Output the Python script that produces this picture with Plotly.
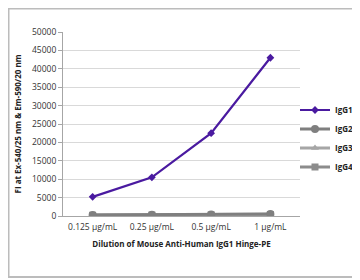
import plotly.graph_objects as go

categories = ["0.125 µg/mL", "0.25 µg/mL", "0.5 µg/mL", "1 µg/mL"]
igg1 = [5200, 10500, 22500, 43000]
igg2 = [300, 320, 400, 550]
igg3 = [250, 280, 350, 450]
igg4 = [200, 250, 300, 400]
series_names = ["IgG1", "IgG2", "IgG3", "IgG4"]
y_ticks = list(range(0, 50001, 5000))

# page body has an 8px margin, so the figure is 8px smaller and offset
W, H = 352, 272
L, R, T, B = 55, 60, 24, 64
PW, PH = W - L - R, H - T - B

fig = go.Figure()
styles = [
    dict(color="#4a1aa0", symbol="diamond", size=6, width=2.2),
    dict(color="#7f7f7f", symbol="circle", size=8, width=3),
    dict(color="#a6a6a6", symbol="triangle-up", size=7, width=3),
    dict(color="#8c8c8c", symbol="square", size=7, width=3),
]
data = [igg1, igg2, igg3, igg4]
order = [3, 2, 1, 0]
for i in order:
    s = styles[i]
    fig.add_trace(go.Scatter(
        x=categories, y=data[i], name="<b>" + series_names[i] + "</b>", mode="lines+markers",
        line=dict(color=s["color"], width=s["width"]),
        marker=dict(color=s["color"], symbol=s["symbol"], size=s["size"]),
        legendrank=i + 1,
    ))

fx = lambda px: (px - L) / PW
fy = lambda py: (H - B - py) / PH

fig.update_layout(
    width=W, height=H,
    margin=dict(l=L, r=R, t=T, b=B, autoexpand=False),
    paper_bgcolor="white", plot_bgcolor="white",
    font=dict(family="Open Sans, Liberation Sans, sans-serif", size=8, color="#222"),
    showlegend=True,
    legend=dict(x=fx(287), y=0.655, xanchor="left", yanchor="top",
                font=dict(size=8, color="#222", family="Open Sans, sans-serif"),
                itemwidth=30, tracegroupgap=0, bgcolor="rgba(0,0,0,0)"),
    xaxis=dict(
        type="category", range=[-0.5, 3.5], showgrid=False, showline=True,
        linecolor="#a6a6a6", linewidth=1, ticklabelstandoff=3,
        ticks="", tickfont=dict(size=8.5, color="#333"),
        title=dict(text="<b>Dilution of Mouse Anti-Human IgG1 Hinge-PE</b>",
                   font=dict(size=8, color="#222"), standoff=10),
    ),
    yaxis=dict(
        range=[0, 50000], tickvals=y_ticks, tickformat="d", showgrid=True,
        gridcolor="#d9d9d9", gridwidth=1,
        showline=True, linecolor="#a6a6a6", ticks="outside", ticklen=4, tickcolor="#a6a6a6",
        tickfont=dict(size=8.5, color="#333"), zeroline=False,
        title=dict(text="<b>FI at Ex-540/25 nm & Em-590/20 nm</b>",
                   font=dict(size=8, color="#222"), standoff=9),
    ),
    shapes=[
        dict(type="rect", xref="paper", yref="paper",
             x0=fx(0.5), x1=fx(350), y0=fy(269), y1=fy(0.5),
             line=dict(color="#bcbcbc", width=2), fillcolor="rgba(0,0,0,0)", layer="above"),
    ],
)

fig.write_html("out.html")
